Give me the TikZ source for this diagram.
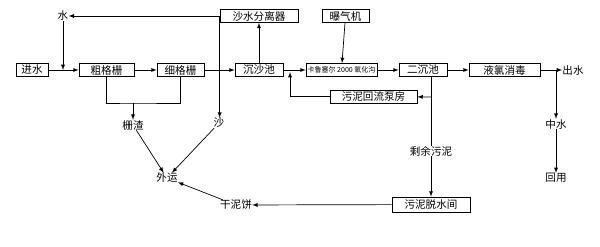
\documentclass[tikz,border=0pt]{standalone}
\usepackage{fontspec}
\setmainfont{Noto Sans CJK SC}
\usetikzlibrary{positioning,calc}

\begin{document}
\begin{tikzpicture}[x=0.03cm,y=-0.03cm,>=latex,line width=.6pt,
    every node/.style={align=center,font=\fontsize{9}{10}\selectfont,inner sep=0pt},
    box/.style={draw,minimum height=13*0.03cm}]
        \useasboundingbox (0,0) rectangle (600,246);
        % main line
        \node[box,minimum width=32*0.03cm] (in) at (32,70) {进水};
        \node[box,minimum width=55*0.03cm] (cg) at (106.5,70) {粗格栅};
        \node[box,minimum width=47*0.03cm] (xg) at (180.5,70) {细格栅};
        \node[box,minimum width=48*0.03cm] (cs) at (259,70) {沉沙池};
        \node[box,minimum width=71*0.03cm,font=\fontsize{6}{7}\selectfont] (ox) at (341.5,70) {卡鲁塞尔 2000 氧化沟};
        \node[box,minimum width=48*0.03cm] (ec) at (423,70) {二沉池};
        \node[box,minimum width=71*0.03cm] (yl) at (504.5,70) {液氯消毒};
        \node (out) at (573,70) {出水};
        % upper row
        \node[box,minimum width=78*0.03cm] (sf) at (259,16) {沙水分离器};
        \node[box,minimum width=47*0.03cm] (bq) at (345.5,16) {曝气机};
        \node (w) at (63,16) {水};
        % lower part
        \node[box,minimum width=87*0.03cm] (hl) at (373.5,96.5) {污泥回流泵房};
        \node[box,minimum width=78*0.03cm,minimum height=15*0.03cm] (ts) at (431,204.5) {污泥脱水间};
        \node (zz) at (133,125) {栅渣};
        \node (sa) at (219,123) {沙};
        \node (wy) at (167,178) {外运};
        \node (gb) at (236,205) {干泥饼};
        \node (sy) at (431,151) {剩余污泥};
        \node (zs) at (556,124) {中水};
        \node (hy) at (556,178) {回用};
        \coordinate (j1) at (63,70);
        \coordinate (j2) at (290,72);
        \coordinate (j3) at (431,76);
        \coordinate (j4) at (431,97);
        \coordinate (j5) at (556,70);
        \coordinate (j6) at (133,103);
        \draw[->] (in) -- (cg);
        \draw[->] (cg) -- (xg);
        \draw[->] (xg) -- (cs);
        \draw[->] (cs) -- (ox);
        \draw[->] (ox) -- (ec);
        \draw[->] (ec) -- (yl);
        \draw[->] (yl) -- (out);
        \draw[->] (cs) -- (sf);
        \draw[->] (sf.west) -- (w);
        \draw[->] (w) -- (j1);
        \draw[->] (sf.west) -- (sf.west |- sa.north);
        \draw[->] (bq) -- (ox);
        \draw (cg.south) |- (j6) -| (xg.south);
        \draw[->] (j6) -- (zz);
        \draw[->] (zz) -- (wy);
        \draw[->] (sa) -- (wy);
        \draw[->] (gb) -- (wy);
        \draw[->] (ts) -- (gb);
        \draw (j3) -- (sy);
        \draw[->] (sy) -- (ts);
        \draw[->] (j4) -- (hl);
        \draw[->] (hl) -| (j2);
        \draw[->] (j5) -- (zs);
        \draw[->] (zs) -- (hy);
      \end{tikzpicture}
\end{document}
